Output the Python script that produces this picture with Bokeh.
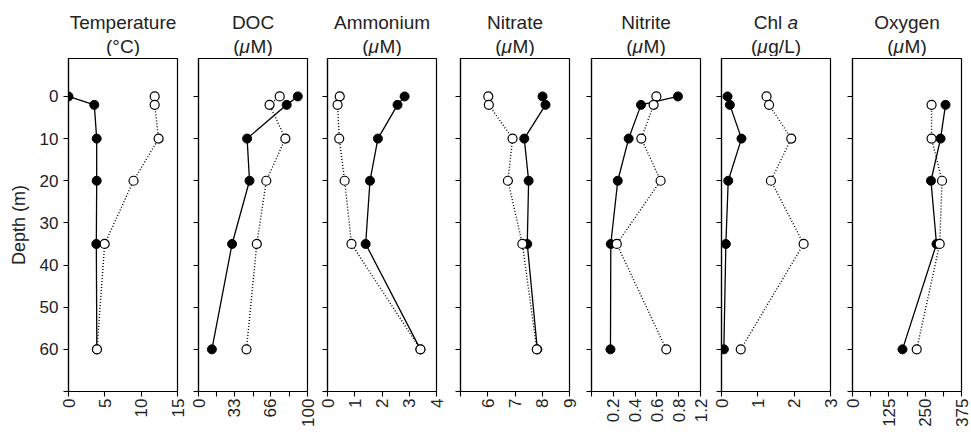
import math
from bokeh.plotting import figure
from bokeh.layouts import row, column
from bokeh.models import Range1d, FixedTicker
from bokeh.core.properties import value
from bokeh.embed import file_html
from bokeh.resources import INLINE

# ---------------- data ----------------
depth = [0, 2, 10, 20, 35, 60]
depth_oxygen = [2, 10, 20, 35, 60]

temp_filled = [0.0, 3.55, 3.88, 3.88, 3.83, 3.9]
temp_open = [11.86, 11.86, 12.4, 8.95, 4.98, 3.92]
doc_filled = [91.1, 80.9, 44.6, 46.8, 30.8, 12.3]
doc_open = [74.5, 65.2, 79.7, 62.2, 53.5, 44.0]
amm_filled = [2.83, 2.57, 1.85, 1.56, 1.40, 3.41]
amm_open = [0.45, 0.37, 0.43, 0.63, 0.88, 3.41]
nitrate_filled = [8.01, 8.12, 7.34, 7.50, 7.45, 7.82]
nitrate_open = [6.02, 6.04, 6.91, 6.74, 7.27, 7.80]
nitrite_filled = [0.793, 0.454, 0.341, 0.241, 0.177, 0.174]
nitrite_open = [0.595, 0.570, 0.457, 0.634, 0.232, 0.686]
chl_filled = [0.166, 0.23, 0.55, 0.185, 0.12, 0.065]
chl_open = [1.24, 1.31, 1.92, 1.36, 2.26, 0.53]
oxy_filled = [320, 303, 270, 289, 172]
oxy_open = [272, 272, 308, 300, 221]

depth_ticks = [0, 10, 20, 30, 40, 50, 60]
depth_minor = [70]

FONT = "Liberation Sans"
TXT = "#222222"

MU_M = [("(", "normal", -19.7), ("μ", "italic", -13.4), ("M)", "normal", -2.4)]
panels = [
    dict(l1=[("Temperature", "normal", None)], l2=[("(°C)", "normal", None)],
         xr=(0, 15), ticks=[0, 5, 10, 15], minor=[], over={},
         f=temp_filled, o=temp_open, d=depth),
    dict(l1=[("DOC", "normal", None)], l2=MU_M,
         xr=(0, 100), ticks=[0, 33, 66, 100], minor=[100 / 6, 50, 500 / 6], over={},
         f=doc_filled, o=doc_open, d=depth),
    dict(l1=[("Ammonium", "normal", None)], l2=MU_M,
         xr=(0, 4), ticks=[0, 1, 2, 3, 4], minor=[], over={},
         f=amm_filled, o=amm_open, d=depth),
    dict(l1=[("Nitrate", "normal", None)], l2=MU_M,
         xr=(5, 9), ticks=[6, 7, 8, 9], minor=[5], over={},
         f=nitrate_filled, o=nitrate_open, d=depth),
    dict(l1=[("Nitrite", "normal", None)], l2=MU_M,
         xr=(0, 1.0), ticks=[0.2, 0.4, 0.6, 0.8, 1.0], minor=[0],
         over={0.2: "0.2", 0.4: "0.4", 0.6: "0.6", 0.8: "0.8", 1.0: "1.2"},
         f=nitrite_filled, o=nitrite_open, d=depth),
    dict(l1=[("Chl", "normal", -22.2), ("a", "italic", 11.6)],
         l2=[("(", "normal", -25.0), ("μ", "italic", -18.7), ("g/L)", "normal", -7.7)],
         xr=(0, 3), ticks=[0, 1, 2, 3], minor=[], over={},
         f=chl_filled, o=chl_open, d=depth),
    dict(l1=[("Oxygen", "normal", None)], l2=MU_M,
         xr=(0, 375), ticks=[0, 125, 250, 375], minor=[62.5, 187.5, 312.5], over={},
         f=oxy_filled, o=oxy_open, d=depth_oxygen),
]

# ---------------- layout ----------------
FRAME_W = 109
FRAME_H = 333
left_borders = [68, 9, 9, 9, 9, 9, 9]
right_borders = [12, 11, 15, 13, 12, 13, 10]
TOTAL_W = sum(left_borders) + sum(right_borders) + FRAME_W * len(panels)
STRIP_H = 56
TOP_B = 2
BOT_B = 40
Y_TOP, Y_BOT = -9, 70

# frame centres (screen px) for the titles
centres = []
acc = 0
for lb, rb in zip(left_borders, right_borders):
    centres.append(acc + lb + FRAME_W / 2)
    acc += lb + FRAME_W + rb

# title strip
strip = figure(width=TOTAL_W, height=STRIP_H, x_range=Range1d(0, TOTAL_W),
               y_range=Range1d(STRIP_H, 0), x_axis_location=None, y_axis_location=None,
               min_border=0, output_backend="svg", toolbar_location=None,
               outline_line_color=None, background_fill_color="white",
               border_fill_color="white")
strip.xgrid.visible = False
strip.ygrid.visible = False
LINE1_Y = 22.0
LINE2_Y = 46.0
for c, pn in zip(centres, panels):
    for yy, pieces in ((LINE1_Y, pn["l1"]), (LINE2_Y, pn["l2"])):
        for txt, style, off in pieces:
            if off is None:
                xs, align = c, "center"
            else:
                xs, align = c + off, "left"
            strip.text(x=[xs], y=[yy], text=[txt], text_align=align,
                       text_baseline="alphabetic", text_font=value(FONT),
                       text_font_size="19px", text_font_style=value(style),
                       text_color=TXT)

figs = []
for i, pn in enumerate(panels):
    p = figure(frame_width=FRAME_W, frame_height=FRAME_H,
               min_border_left=left_borders[i], min_border_right=right_borders[i],
               min_border_top=TOP_B, min_border_bottom=BOT_B,
               x_range=Range1d(*pn["xr"]), y_range=Range1d(Y_BOT, Y_TOP),
               output_backend="svg", toolbar_location=None,
               background_fill_color="white", border_fill_color="white")
    p.xgrid.visible = False
    p.ygrid.visible = False
    p.outline_line_color = "black"
    p.outline_line_width = 1.2
    p.outline_line_alpha = 1.0

    for ax in (p.xaxis[0], p.yaxis[0]):
        ax.axis_line_color = "black"
        ax.axis_line_width = 1.2
        ax.major_tick_line_color = "black"
        ax.minor_tick_line_color = "black"
        ax.major_tick_line_width = 1.1
        ax.minor_tick_line_width = 1.1
        ax.major_tick_in = 0
        ax.major_tick_out = 5
        ax.minor_tick_in = 0
        ax.minor_tick_out = 5
        ax.major_label_text_font = FONT
        ax.major_label_text_color = TXT
        ax.major_label_text_font_size = "17px"

    xa = p.xaxis[0]
    xa.ticker = FixedTicker(ticks=pn["ticks"], minor_ticks=pn["minor"])
    if pn["over"]:
        xa.major_label_overrides = pn["over"]
    xa.major_label_orientation = math.pi / 2
    xa.major_label_standoff = 2

    ya = p.yaxis[0]
    ya.ticker = FixedTicker(ticks=depth_ticks, minor_ticks=depth_minor)
    if i == 0:
        ya.axis_label = "Depth (m)"
        ya.axis_label_text_font = FONT
        ya.axis_label_text_font_size = "18px"
        ya.axis_label_text_font_style = "normal"
        ya.axis_label_text_color = TXT
        ya.axis_label_standoff = 8
        ya.major_label_standoff = 5
    else:
        ya.major_label_text_font_size = "0px"
        ya.major_label_text_color = None
        ya.major_label_standoff = 0

    # lines
    p.line(pn["f"], pn["d"], line_color="black", line_width=1.3)
    p.line(pn["o"], pn["d"], line_color="black", line_width=1.4, line_dash="1 2")
    # markers
    p.scatter(pn["f"], pn["d"], size=9, marker="circle",
              fill_color="black", line_color="black", line_width=1)
    p.scatter(pn["o"], pn["d"], size=9, marker="circle",
              fill_color="white", line_color="black", line_width=1.2)
    figs.append(p)

layout = column(strip, row(*figs, spacing=0), spacing=0)
open("out.html", "w").write(file_html(layout, INLINE))
